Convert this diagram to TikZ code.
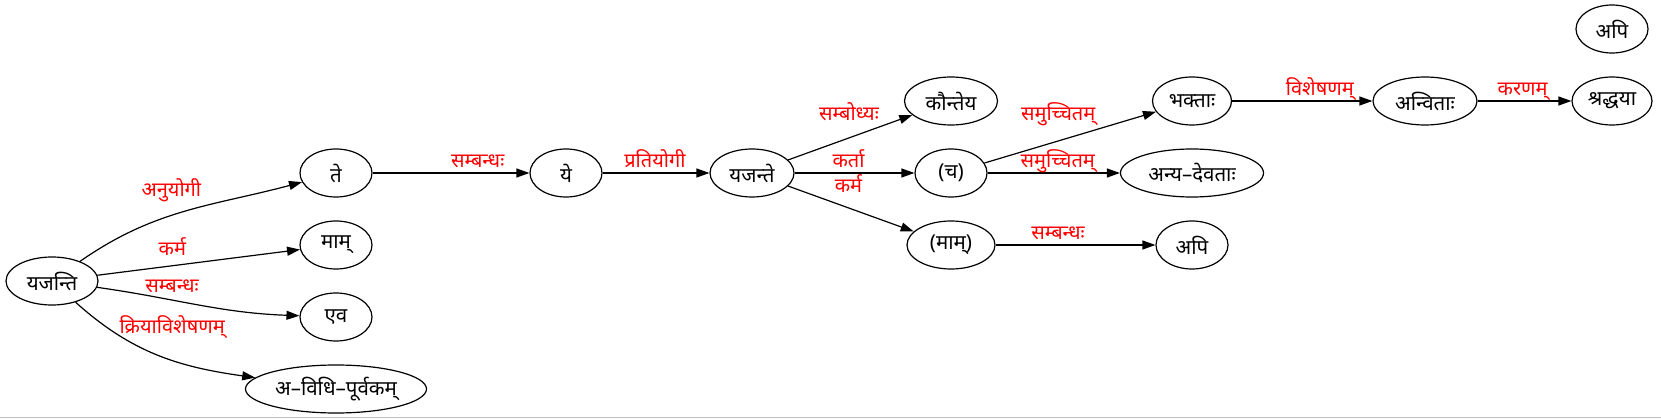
\documentclass[tikz,border=0pt]{standalone}
\usepackage{fontspec}
\newfontfamily\deva[Script=Devanagari]{Noto Sans}
\usetikzlibrary{arrows.meta, positioning, shapes.geometric}

\begin{document}
\begin{tikzpicture}[
    x=1pt, y=-1pt,
    node distance=72pt, on grid,
    word/.style={ellipse, draw=black, line width=1.2pt, inner sep=0pt,
                 minimum height=48pt, minimum width=72pt,
                 font=\deva\fontsize{20.5}{24}\selectfont},
    lbl/.style={text=red, inner sep=0pt, anchor=base,
                font=\deva\fontsize{20}{24}\selectfont},
    rel/.style={-{Triangle[length=13pt, width=9pt]}, line width=1.2pt}
]
\useasboundingbox (0,0) rectangle (1661,419);

% Define words
\node[word, minimum width=92pt] (yajanti) at (52,281) {यजन्ति};
\node[word, above right=108pt and 284pt of yajanti] (te) {ते};
\node[word, below=of te] (maam) {माम्};
\node[word, below=of maam] (eva) {एव};
\node[word, below=of eva, minimum width=181pt] (avidhi) {अ–विधि–पूर्वकम्};
\node[word, right=230pt of te] (ye) {ये};
\node[word, right=186pt of ye, minimum width=84pt] (yajante) {यजन्ते};
\node[word, right=199pt of yajante] (ca) {(च)};
\node[word, above=of ca, minimum width=93pt] (kaunteya) {कौन्तेय};
\node[word, below=of ca, minimum width=88pt] (maam2) {(माम्)};
\node[word, right=241pt of ca, minimum width=143pt] (anyadevatah) {अन्य–देवताः};
\node[word, above=of anyadevatah, minimum width=79pt] (bhaktah) {भक्ताः};
\node[word, below=of anyadevatah] (api) {अपि};
\node[word, right=233pt of bhaktah, minimum width=104pt] (anvitah) {अन्विताः};
\node[word, right=187pt of anvitah, minimum width=80pt] (shraddhaya) {श्रद्धया};
\node[word, above=of shraddhaya] (api2) {अपि};

% Relations
\draw[rel] (yajanti) to[out=35, in=195] node[lbl, pos=0.43, yshift=19pt] {अनुयोगी} (te);
\draw[rel] (yajanti) -- node[lbl, pos=0.37, yshift=10pt] {कर्म} (maam);
\draw[rel] (yajanti) to[out=-8, in=178] node[lbl, pos=0.36, yshift=7pt] {सम्बन्धः} (eva);
\draw[rel] (yajanti) to[out=-42, in=172] node[lbl, pos=0.58, yshift=27pt] {क्रियाविशेषणम्} (avidhi);
\draw[rel] (te) -- node[lbl, pos=0.67, yshift=5pt] {सम्बन्धः} (ye);
\draw[rel] (ye) -- node[lbl, pos=0.49, yshift=5pt] {प्रतियोगी} (yajante);
\draw[rel] (yajante) -- node[lbl, pos=0.49, yshift=17pt] {सम्बोध्यः} (kaunteya);
\draw[rel] (yajante) -- node[lbl, pos=0.45, yshift=5pt] {कर्ता}
                        node[lbl, pos=0.45, yshift=-20pt] {कर्म} (ca);
\draw[rel] (yajante) -- (maam2);
\draw[rel] (ca) -- node[lbl, pos=0.43, yshift=20pt] {समुच्चितम्} (bhaktah);
\draw[rel] (ca) -- node[lbl, pos=0.53, yshift=5pt] {समुच्चितम्} (anyadevatah);
\draw[rel] (maam2) -- node[lbl, pos=0.39, yshift=5pt] {सम्बन्धः} (api);
\draw[rel] (bhaktah) -- node[lbl, pos=0.625, yshift=5pt] {विशेषणम्} (anvitah);
\draw[rel] (anvitah) -- node[lbl, pos=0.48, yshift=5pt] {करणम्} (shraddhaya);

\draw[black!25] (0,417) -- (1661,417);
\end{tikzpicture}
\end{document}
